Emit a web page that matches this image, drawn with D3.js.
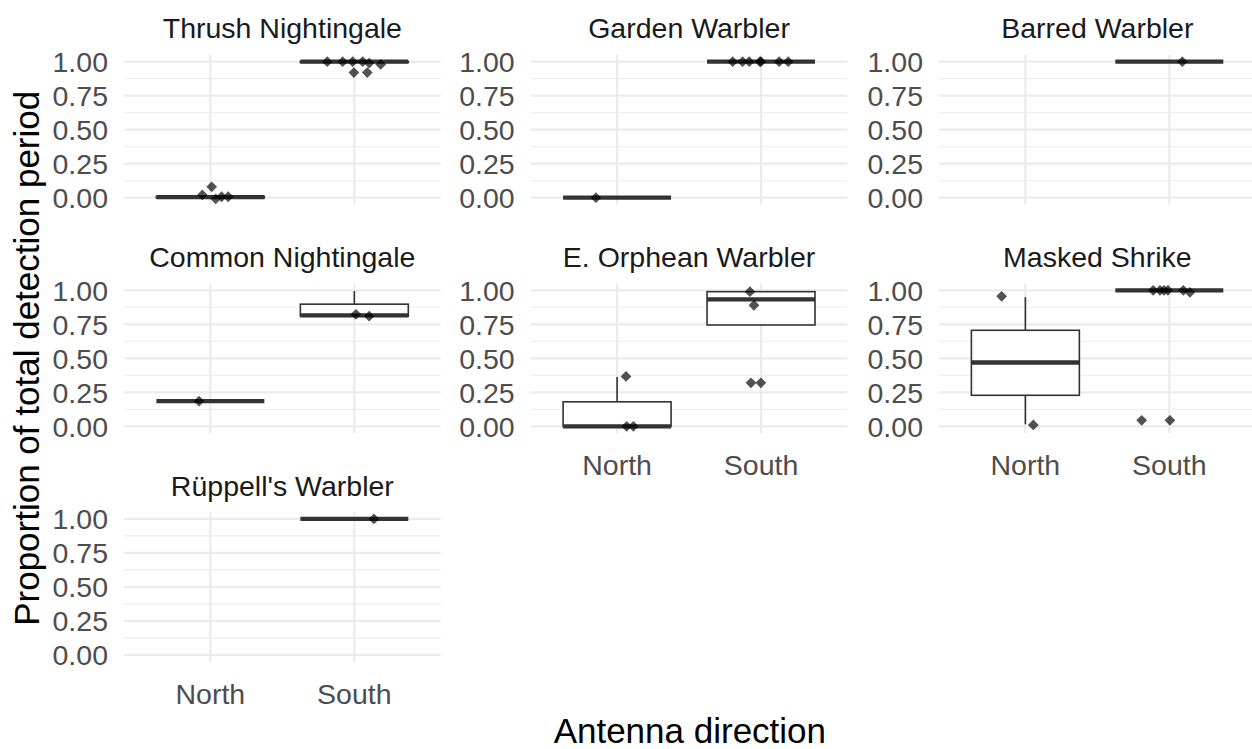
<!DOCTYPE html>
<html>
<head>
<meta charset="utf-8">
<script src="https://cdn.jsdelivr.net/npm/d3@7"></script>
<style>
  html, body { margin: 0; padding: 0; background: #fff; }
  svg { display: block; font-family: "Liberation Sans", Arial, sans-serif; }
</style>
</head>
<body>
<svg id="chart" width="1252" height="749"></svg>
<script>
// Facet titles, in reading order (3 columns)
const species = [
  "Thrush Nightingale", "Garden Warbler", "Barred Warbler",
  "Common Nightingale", "E. Orphean Warbler", "Masked Shrike",
  "Rüppell's Warbler"
];
const directions = ["North", "South"];
const yTicks = [0, 0.25, 0.5, 0.75, 1];
const yMinor = [0.125, 0.375, 0.625, 0.875];

// Box summaries per species: [lower whisker, Q1, median, Q3, upper whisker]
const boxNorth = [
  [0, 0, 0.004, 0.008, 0.008],
  [0, 0, 0, 0, 0],
  null,
  [0.185, 0.185, 0.185, 0.185, 0.185],
  [0, 0, 0, 0.18, 0.363],
  [0.015, 0.228, 0.469, 0.706, 0.95],
  null
];
const boxSouth = [
  [0.99, 0.995, 1, 1, 1],
  [1, 1, 1, 1, 1],
  [1, 1, 1, 1, 1],
  [0.81, 0.81, 0.815, 0.898, 0.995],
  [0.745, 0.745, 0.934, 0.99, 0.99],
  [1, 1, 1, 1, 1],
  [1, 1, 1, 1, 1]
];

// Jittered observations: [horizontal jitter (fraction of category step), proportion]
const pointsNorth = [
  [[-0.056, 0.02], [0.009, 0.08], [0.037, -0.008], [0.078, 0.007], [0.124, 0.007]],
  [[-0.147, 0]],
  [],
  [[-0.079, 0.185]],
  [[0.062, 0.367], [0.067, 0], [0.113, 0]],
  [[-0.165, 0.956], [0.055, 0.01]],
  []
];
const pointsSouth = [
  [[-0.188, 1], [-0.081, 1], [-0.012, 1], [-0.003, 0.92], [0.058, 1], [0.09, 0.92], [0.103, 0.99], [0.183, 0.98]],
  [[-0.197, 1], [-0.128, 1], [-0.082, 1], [-0.008, 1], [0.0, 1], [0.126, 1], [0.189, 1]],
  [[0.09, 1]],
  [[0.011, 0.823], [0.103, 0.81]],
  [[-0.077, 0.99], [-0.049, 0.89], [-0.07, 0.32], [-0.001, 0.32]],
  [[-0.112, 1], [-0.065, 1], [-0.037, 1], [-0.01, 1], [0.097, 1], [0.143, 0.985], [-0.192, 0.044], [0.004, 0.044]],
  [[0.136, 1]]
];

// Layout of the facet grid
const colLeft = [124, 530.7, 939];
const rowTop = [54.9, 283.5, 512.1];
const panelW = 316.7;
const panelH = 149.6;
const nCols = 3;

const svg = d3.select("#chart");
const gridCol = "#EBEBEB";
const inkCol = "#333333";

const diamond = d3.symbol().type(d3.symbolSquare).size(58);

species.forEach((name, i) => {
  const col = i % nCols, row = Math.floor(i / nCols);
  const x0 = colLeft[col], y0 = rowTop[row];

  const x = d3.scalePoint().domain(directions).range([x0, x0 + panelW]).padding(0.6);
  const y = d3.scaleLinear().domain([-0.05, 1.05]).range([y0 + panelH, y0]);
  const step = x.step();

  const g = svg.append("g");

  // minor grid
  g.selectAll(".minor").data(yMinor).join("line")
    .attr("x1", x0).attr("x2", x0 + panelW)
    .attr("y1", d => y(d)).attr("y2", d => y(d))
    .attr("stroke", gridCol).attr("stroke-width", 1.1);
  // major grid
  g.selectAll(".major").data(yTicks).join("line")
    .attr("x1", x0).attr("x2", x0 + panelW)
    .attr("y1", d => y(d)).attr("y2", d => y(d))
    .attr("stroke", gridCol).attr("stroke-width", 2.2);
  g.selectAll(".vmajor").data(directions).join("line")
    .attr("x1", d => x(d)).attr("x2", d => x(d))
    .attr("y1", y0).attr("y2", y0 + panelH)
    .attr("stroke", gridCol).attr("stroke-width", 2.2);

  // y tick labels
  g.selectAll(".ytick").data(yTicks).join("text")
    .attr("x", x0 - 16).attr("y", d => y(d)).attr("dy", "0.36em")
    .attr("text-anchor", "end")
    .attr("font-size", 28.5).attr("fill", "#4D4D4D")
    .text(d => d3.format(".2f")(d));

  // strip title
  g.append("text")
    .attr("x", x0 + panelW / 2).attr("y", y0 - 16.6)
    .attr("text-anchor", "middle")
    .attr("font-size", 28.5).attr("fill", "#1A1A1A")
    .text(name);

  // x tick labels only on panels without a panel below
  const below = i + nCols;
  if (below >= species.length) {
    g.selectAll(".xtick").data(directions).join("text")
      .attr("x", d => x(d)).attr("y", y0 + panelH + 42)
      .attr("text-anchor", "middle")
      .attr("font-size", 28.5).attr("fill", "#4D4D4D")
      .text(d => d);
  }

  // boxplots
  const boxes = [[directions[0], boxNorth[i]], [directions[1], boxSouth[i]]].filter(b => b[1]);
  const half = step * 0.75 / 2;
  boxes.forEach(([dir, s]) => {
    const cx = x(dir);
    const [lo, q1, med, q3, hi] = s;
    if (hi > q3) {
      g.append("line").attr("x1", cx).attr("x2", cx)
        .attr("y1", y(q3)).attr("y2", y(hi))
        .attr("stroke", inkCol).attr("stroke-width", 1.6);
    }
    if (lo < q1) {
      g.append("line").attr("x1", cx).attr("x2", cx)
        .attr("y1", y(q1)).attr("y2", y(lo))
        .attr("stroke", inkCol).attr("stroke-width", 1.6);
    }
    g.append("rect")
      .attr("x", cx - half).attr("width", half * 2)
      .attr("y", y(q3)).attr("height", Math.max(0, y(q1) - y(q3)))
      .attr("fill", "#fff").attr("stroke", inkCol).attr("stroke-width", 1.6);
    g.append("line")
      .attr("x1", cx - half).attr("x2", cx + half)
      .attr("y1", y(med)).attr("y2", y(med))
      .attr("stroke", inkCol).attr("stroke-width", 4.3);
  });

  // jittered points
  const pts = [];
  pointsNorth[i].forEach(p => pts.push([directions[0], p[0], p[1]]));
  pointsSouth[i].forEach(p => pts.push([directions[1], p[0], p[1]]));
  g.selectAll(".pt").data(pts).join("path")
    .attr("d", diamond)
    .attr("transform", d => `translate(${x(d[0]) + d[1] * step},${y(d[2])}) rotate(45)`)
    .attr("fill", "#000").attr("fill-opacity", 0.68);
});

// axis titles
svg.append("text")
  .attr("x", (colLeft[0] + colLeft[2] + panelW) / 2).attr("y", 743)
  .attr("text-anchor", "middle").attr("font-size", 35).attr("fill", "#000")
  .text("Antenna direction");

svg.append("text")
  .attr("transform", `translate(39,${(rowTop[0] + rowTop[2] + panelH) / 2}) rotate(-90)`)
  .attr("text-anchor", "middle").attr("font-size", 35).attr("fill", "#000")
  .text("Proportion of total detection period");
</script>
</body>
</html>
